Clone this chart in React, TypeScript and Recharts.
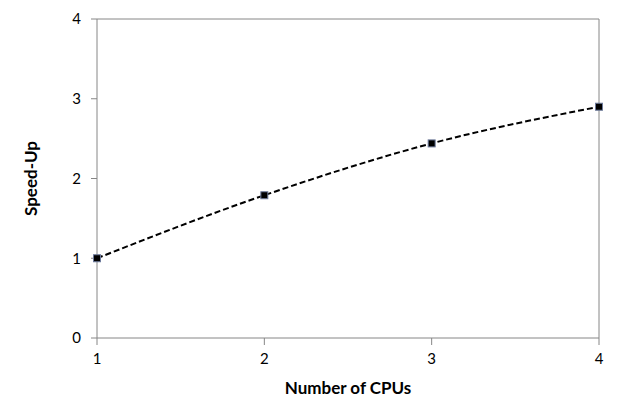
import { LineChart, Line, XAxis, YAxis, ReferenceLine, Label } from "recharts";

const cpus = [1, 2, 3, 4];
const speedUp = [1.0, 1.79, 2.44, 2.9];
const yTicks = [0, 1, 2, 3, 4];

const data = cpus.map((c, i) => ({ cpus: c, speedUp: speedUp[i] }));

const axisColor = "#868686";
const font = "Lato, 'Open Sans', sans-serif";

const SquareDot = (props: any) => {
  const { cx, cy } = props;
  if (cx == null || cy == null) return null;
  return (
    <rect x={cx - 3.5} y={cy - 3.5} width={7} height={7} fill="#000" stroke="#6e7b9c" strokeWidth={1} />
  );
};

export default function App() {
  return (
    <div style={{ margin: -8, width: 620, height: 418, background: "#fff", fontFamily: font }}>
      <LineChart width={620} height={418} data={data} margin={{ top: 19, right: 21, left: 0, bottom: 20 }}>
        <XAxis
          dataKey="cpus" type="number" domain={[1, 4]} ticks={cpus}
          stroke={axisColor} tickSize={7} tickMargin={8}
          tick={{ fontSize: 15, fill: "#000", fontFamily: font }}
          height={60}
        >
          <Label value="Number of CPUs" position="insideBottom" offset={4}
            style={{ fontSize: 17, fontWeight: "bold", fill: "#000", fontFamily: font }} />
        </XAxis>
        <YAxis
          type="number" domain={[0, 4]} ticks={yTicks} width={97}
          stroke={axisColor} tickSize={6} tickMargin={10}
          tick={{ fontSize: 15, fill: "#000", fontFamily: font }}
        >
          <Label value="Speed-Up" angle={-90} position="insideLeft" offset={31}
            style={{ fontSize: 17, fontWeight: "bold", fill: "#000", fontFamily: font, textAnchor: "middle" }} />
        </YAxis>
        <ReferenceLine y={4} stroke={axisColor} />
        <ReferenceLine x={4} stroke={axisColor} />
        <Line
          type="monotone" dataKey="speedUp" stroke="#000" strokeWidth={2}
          strokeDasharray="6 3" dot={<SquareDot />} activeDot={false}
          isAnimationActive={false}
        />
      </LineChart>
    </div>
  );
}
